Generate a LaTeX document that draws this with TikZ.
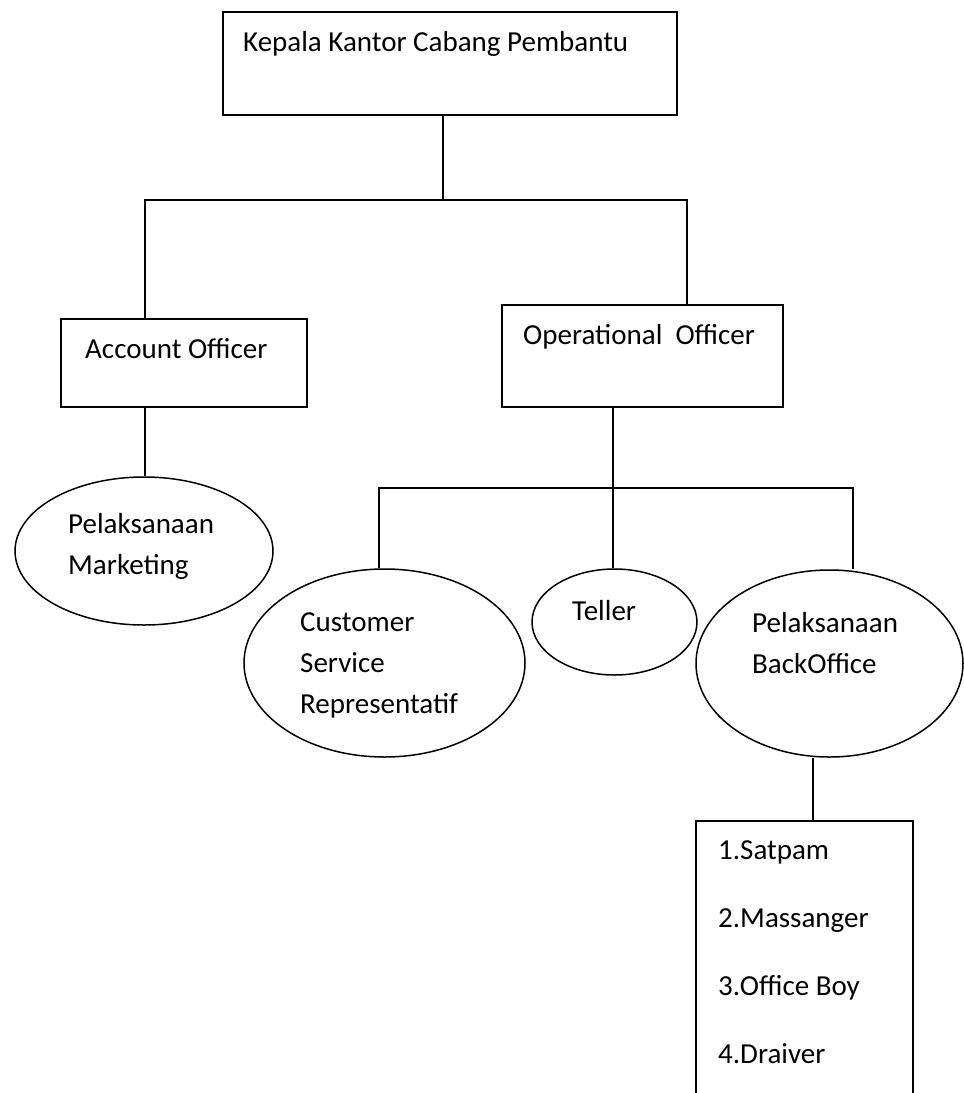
\documentclass[tikz,border=0pt]{standalone}
\usepackage{fontspec}
\setmainfont{Carlito}
\usetikzlibrary{shapes.geometric}
\tikzset{
  box/.style={draw,line width=1.5pt,inner sep=0pt},
  oval/.style={draw,ellipse,line width=1.5pt,inner sep=0pt},
  txt/.style={anchor=base west,inner sep=0pt,align=left,font=\fontsize{29}{41}\selectfont},
  link/.style={line width=1.5pt}
}
\begin{document}
\begin{tikzpicture}[x=1pt,y=-1pt]
  \useasboundingbox (0,0) rectangle (964,1093);
  \clip (0,0) rectangle (964,1093);
  % boxes
  \node[box,minimum width=454,minimum height=103] (kepala) at (450,63.5) {};
  \node[box,minimum width=246,minimum height=88] (account) at (184,363) {};
  \node[box,minimum width=281,minimum height=102] (oper) at (642.5,356) {};
  \node[box,minimum width=217,minimum height=289] (list) at (804.5,965.5) {};
  % ovals
  \node[oval,minimum width=258,minimum height=148] (market) at (144,551) {};
  \node[oval,minimum width=281,minimum height=188] (cs) at (384.5,663) {};
  \node[oval,minimum width=165,minimum height=106] (teller) at (614.5,622) {};
  \node[oval,minimum width=267,minimum height=187] (back) at (829.5,663.5) {};
  % texts (base = last line)
  \node[txt] (kepalaT) at (243,51) {Kepala Kantor Cabang Pembantu};
  \node[txt] (accountT) at (85,358) {Account Officer};
  \node[txt] (operT) at (523,344) {Operational\ \ Officer};
  \node[txt] (marketT) at (68,574) {Pelaksanaan\\Marketing};
  \node[txt] (csT) at (300,713) {Customer\\Service\\Representatif};
  \node[txt] (tellerT) at (572,620) {Teller};
  \node[txt] (backT) at (752,673) {Pelaksanaan\\BackOffice};
  \node[txt,font=\fontsize{29}{68}\selectfont] (listT) at (718,1063)
    {1.Satpam\\2.Massanger\\3.Office Boy\\4.Draiver};
  % bus lines
  \coordinate (topL) at (145,200);
  \coordinate (topM) at (443,200);
  \coordinate (topR) at (687,200);
  \coordinate (midL) at (379,488);
  \coordinate (midM) at (613,488);
  \coordinate (midR) at (853,488);
  \coordinate (drop) at (813,0);
  \draw[link] (topM |- kepala.south) -- (topM);
  \draw[link] (topL |- account.north) -- (topL) -- (topR) -- (topR |- oper.north);
  \draw[link] (topL |- account.south) -- (topL |- market.north);
  \draw[link] (midM |- oper.south) -- (midM |- teller.north);
  \draw[link] (midL |- cs.north) -- (midL) -- (midR) -- (midR |- back.north);
  \draw[link] (drop |- back.south) -- (drop |- list.north);
\end{tikzpicture}
\end{document}
